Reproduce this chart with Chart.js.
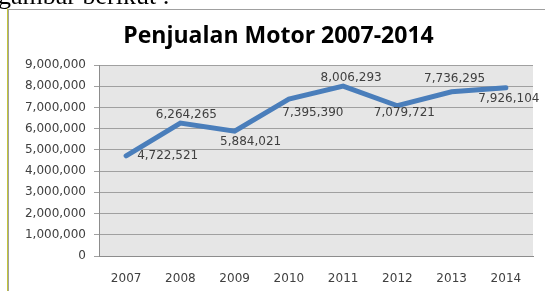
<!DOCTYPE html>
<html>
<head>
<meta charset="utf-8">
<script src="https://cdn.jsdelivr.net/npm/chart.js@4.4.1/dist/chart.umd.min.js"></script>
<style>
  html, body { margin: 0; padding: 0; background: #fff; }
  #wrap { position: relative; width: 545px; height: 291px; overflow: hidden; }
  #c { position: absolute; left: 0; top: 0; }
  #intro { position: absolute; left: -2px; top: -17px; font-family: "Liberation Serif", serif; font-size: 26px; line-height: 26px; color: #000; white-space: nowrap; }
  #bl1 { position: absolute; left: 7px; top: 8px; width: 1px; height: 300px; background: #c2c43a; }
  #bl2 { position: absolute; left: 8px; top: 9px; width: 1px; height: 300px; background: #a0a0a0; }
  #bt { position: absolute; left: 8px; top: 9px; width: 560px; height: 1px; background: #a0a0a0; }
</style>
</head>
<body>
<div id="wrap">
  <canvas id="c" width="545" height="291"></canvas>
  <div id="intro">gambar berikut :</div>
  <div id="bl1"></div>
  <div id="bl2"></div>
  <div id="bt"></div>
</div>
<script>
const titleText = 'Penjualan Motor 2007-2014';
const years = ['2007', '2008', '2009', '2010', '2011', '2012', '2013', '2014'];
const sales = [4722521, 6264265, 5884021, 7395390, 8006293, 7079721, 7736295, 7926104];
const yTicks = [0, 1000000, 2000000, 3000000, 4000000, 5000000, 6000000, 7000000, 8000000, 9000000];

const fmt = v => Number(v).toLocaleString('en-US');

// label placement relative to each point: [dx, dy, align]
const labelPlace = [[11, 0, 'left'], [6, -8, 'center'], [16, 11, 'center'], [24, 14, 'center'],
                    [8, -8, 'center'], [7, 7, 'center'], [3, -13, 'center'], [3, 11, 'center']];

const plotBg = {
  id: 'plotBg',
  beforeDraw(chart) {
    const { ctx, chartArea: a } = chart;
    ctx.save();
    ctx.fillStyle = '#e6e6e6';
    ctx.fillRect(a.left, a.top, a.right - a.left, a.bottom - a.top);
    ctx.restore();
  }
};

const dataLabels = {
  id: 'dataLabels',
  afterDatasetsDraw(chart) {
    const { ctx } = chart;
    const meta = chart.getDatasetMeta(0);
    ctx.save();
    ctx.font = '12px "DejaVu Sans"';
    ctx.fillStyle = '#404040';
    ctx.textBaseline = 'middle';
    meta.data.forEach((pt, i) => {
      const p = labelPlace[i];
      ctx.textAlign = p[2];
      ctx.fillText(fmt(chart.data.datasets[0].data[i]), pt.x + p[0], pt.y + p[1]);
    });
    ctx.restore();
  }
};

new Chart(document.getElementById('c'), {
  type: 'line',
  data: {
    labels: years,
    datasets: [{
      data: sales,
      borderColor: '#4a7ebb',
      borderWidth: 5,
      borderCapStyle: 'round',
      borderJoinStyle: 'miter',
      pointRadius: 0,
      tension: 0,
      fill: false
    }]
  },
  options: {
    responsive: false,
    animation: false,
    devicePixelRatio: 1,
    layout: { padding: { left: 24, right: 12, top: 0, bottom: 0 } },
    plugins: {
      legend: { display: false },
      tooltip: { enabled: false },
      title: {
        display: true,
        text: titleText,
        color: '#000',
        font: { family: '"Open Sans"', size: 23, weight: 'bold' },
        padding: { top: 23, bottom: 14.4 }
      }
    },
    scales: {
      x: {
        offset: true,
        grid: { display: false, drawTicks: false },
        border: { display: true, color: '#8c8c8c' },
        ticks: { color: '#404040', font: { family: '"DejaVu Sans"', size: 12 }, padding: 16, maxRotation: 0 },
        afterFit(s) { s.height = 35; }
      },
      y: {
        min: 0,
        max: 9000000,
        afterBuildTicks(s) { s.ticks = yTicks.map(v => ({ value: v })); },
        grid: { color: '#a0a0a0', tickLength: 5, drawTicks: true },
        border: { display: true, color: '#8c8c8c' },
        ticks: { color: '#404040', font: { family: '"DejaVu Sans"', size: 12 }, padding: 8, callback: v => fmt(v) },
        afterFit(s) { s.width = 75; }
      }
    }
  },
  plugins: [plotBg, dataLabels]
});
</script>
</body>
</html>
